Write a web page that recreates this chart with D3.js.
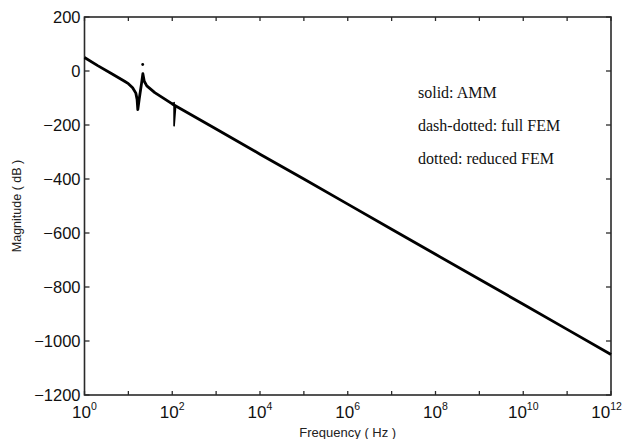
<!DOCTYPE html>
<html>
<head>
<meta charset="utf-8">
<script src="https://cdn.jsdelivr.net/npm/d3@7"></script>
<style>
  body { margin: 0; background: #fff; }
  svg { display: block; }
</style>
</head>
<body>
<svg></svg>
<script>
// Dimensions
const width = 623, height = 439;
const margin = {left: 84.5, right: 12, top: 17, bottom: 44};

// Data
const freqHz = [1, 2, 4, 8, 10, 12.5, 14.8, 15.8, 16.4, 17.8, 20, 21.4, 23, 26.3, 40, 100,
                1e3, 1e4, 1e5, 1e6, 1e7, 1e8, 1e9, 1e10, 1e11, 1e12];
const ammDb = [50, 20, -8, -37, -47, -62, -82, -105, -143, -100, -45, -10, -38, -55, -80, -122,
               -215, -308, -400, -493, -586, -679, -771, -864, -957, -1050];
// full FEM notch near 110 Hz
const femFreqHz = [100, 110, 110, 120];
const femDb = [-120, -118, -205, -127];
// reduced FEM isolated point above the peak
const reducedFreqHz = [21.2];
const reducedDb = [24];

const yTicks = [200, 0, -200, -400, -600, -800, -1000, -1200];
const xMajorExp = [0, 2, 4, 6, 8, 10, 12];
const xAllExp = [0, 1, 2, 3, 4, 5, 6, 7, 8, 9, 10, 11, 12];
const legendLines = ["solid: AMM", "dash-dotted: full FEM", "dotted: reduced FEM"];

const svg = d3.select("svg").attr("width", width).attr("height", height);

const x = d3.scaleLog().domain([1, 1e12]).range([margin.left, width - margin.right]);
const y = d3.scaleLinear().domain([-1200, 200]).range([height - margin.bottom, margin.top]);

const x0 = x.range()[0], x1 = x.range()[1], y0 = y.range()[0], y1 = y.range()[1];

// frame
svg.append("rect")
  .attr("x", x0).attr("y", y1)
  .attr("width", x1 - x0).attr("height", y0 - y1)
  .attr("fill", "none").attr("stroke", "#2a2a2a").attr("stroke-width", 1.6);

// ticks (inward, on all four sides)
const tickG = svg.append("g").attr("stroke", "#2a2a2a").attr("stroke-width", 1.3);
xAllExp.forEach(e => {
  const xx = x(Math.pow(10, e));
  tickG.append("line").attr("x1", xx).attr("x2", xx).attr("y1", y0).attr("y2", y0 - 4);
  tickG.append("line").attr("x1", xx).attr("x2", xx).attr("y1", y1).attr("y2", y1 + 4);
});
yTicks.forEach(v => {
  const yy = y(v);
  tickG.append("line").attr("x1", x0).attr("x2", x0 + 5).attr("y1", yy).attr("y2", yy);
  tickG.append("line").attr("x1", x1).attr("x2", x1 - 5).attr("y1", yy).attr("y2", yy);
});

// y tick labels
const fmt = d3.format("d");
svg.append("g").selectAll("text").data(yTicks).join("text")
  .attr("x", x0 - 4).attr("y", d => y(d)).attr("dy", "0.36em")
  .attr("text-anchor", "end")
  .style("font", "16.5px 'Liberation Sans', Arial, sans-serif")
  .attr("fill", "#111")
  .text(d => fmt(d));

// x tick labels 10^n
const xl = svg.append("g").selectAll("text").data(xMajorExp).join("text")
  .attr("x", d => x(Math.pow(10, d))).attr("y", 418)
  .attr("text-anchor", "middle")
  .style("font", "17px 'Liberation Sans', Arial, sans-serif")
  .attr("fill", "#111");
xl.append("tspan").text("10");
xl.append("tspan").attr("dy", -8).style("font-size", "10.5px").text(d => d);
// keep the last label inside the window
xl.each(function() {
  const b = this.getBBox();
  if (b.x + b.width > width - 1) {
    d3.select(this).attr("x", +d3.select(this).attr("x") - (b.x + b.width - width + 1));
  }
});

// axis titles
svg.append("text")
  .attr("x", (x0 + x1) / 2).attr("y", 437)
  .attr("text-anchor", "middle")
  .style("font", "13px 'Liberation Sans', Arial, sans-serif")
  .attr("fill", "#222")
  .text("Frequency ( Hz )");
svg.append("text")
  .attr("transform", `translate(21,${(y0 + y1) / 2}) rotate(-90)`)
  .attr("text-anchor", "middle")
  .style("font", "12.5px 'Liberation Sans', Arial, sans-serif")
  .attr("fill", "#222")
  .text("Magnitude ( dB )");

// curves
const line = d3.line().x(d => x(d[0])).y(d => y(d[1]));
svg.append("path")
  .datum(d3.zip(freqHz, ammDb))
  .attr("d", line)
  .attr("fill", "none").attr("stroke", "#000")
  .attr("stroke-width", 2.8).attr("stroke-linejoin", "round");
svg.append("path")
  .datum(d3.zip(femFreqHz, femDb))
  .attr("d", line)
  .attr("fill", "none").attr("stroke", "#000")
  .attr("stroke-width", 1.6);
svg.append("g").selectAll("circle").data(d3.zip(reducedFreqHz, reducedDb)).join("circle")
  .attr("cx", d => x(d[0])).attr("cy", d => y(d[1])).attr("r", 1.4)
  .attr("fill", "#000");

// legend text
svg.append("g").selectAll("text").data(legendLines).join("text")
  .attr("x", 418).attr("y", (d, i) => 97.5 + i * 33)
  .style("font", "16px 'Liberation Serif', 'Times New Roman', serif")
  .attr("fill", "#111")
  .text(d => d);
</script>
</body>
</html>
